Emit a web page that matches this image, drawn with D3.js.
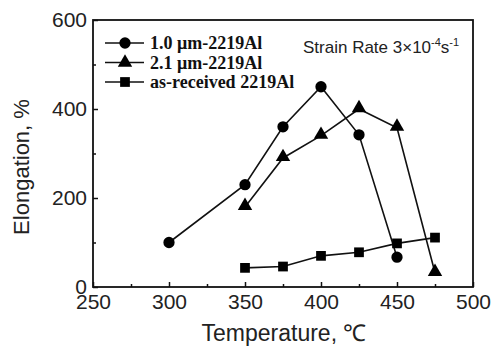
<!DOCTYPE html>
<html>
<head>
<meta charset="utf-8">
<script src="https://cdn.jsdelivr.net/npm/d3@7"></script>
<style>
  body { margin: 0; background: #fff; }
  svg { display: block; }
</style>
</head>
<body>
<div id="chart"></div>
<script>
// values
const temps1 = [300, 350, 375, 400, 425, 450];
const elong1 = [100, 230, 360, 450, 342, 67];
const temps2 = [350, 375, 400, 425, 450, 475];
const elong2 = [180, 290, 340, 400, 358, 32];
const tempsAR = [350, 375, 400, 425, 450, 475];
const elongAR = [43, 46, 70, 78, 98, 111];

const xTicks = [250, 300, 350, 400, 450, 500];
const yTicks = [0, 200, 400, 600];
const seriesNames = ["1.0 \u03bcm-2219Al", "2.1 \u03bcm-2219Al", "as-received 2219Al"];

const size = { width: 493, height: 348 };
const margin = { left: 93, top: 20, right: 20, bottom: 61 };
const w = size.width - margin.left - margin.right;
const h = size.height - margin.top - margin.bottom;

const svg = d3.select("#chart").append("svg")
    .attr("width", size.width)
    .attr("height", size.height);

const g = svg.append("g")
    .attr("transform", "translate(" + margin.left + "," + margin.top + ")");

const xScale = d3.scaleLinear().domain([250, 500]).range([0, w]);
const yScale = d3.scaleLinear().domain([0, 600]).range([h, 0]);

const tickFont = "Liberation Sans, Arial, sans-serif";

// minor ticks first, then major
g.append("g")
    .attr("transform", "translate(0," + h + ")")
    .call(d3.axisBottom(xScale).tickValues([275, 325, 375, 425, 475]).tickSize(-3).tickFormat(""))
    .call(a => a.select(".domain").remove());
g.append("g")
    .call(d3.axisLeft(yScale).tickValues([100, 300, 500]).tickSize(-3).tickFormat(""))
    .call(a => a.select(".domain").remove());

const xAxis = g.append("g")
    .attr("transform", "translate(0," + h + ")")
    .call(d3.axisBottom(xScale).tickValues(xTicks).tickSize(-5).tickPadding(7).tickFormat(d3.format("d")));
xAxis.select(".domain").remove();
xAxis.selectAll("text").attr("font-size", 21).attr("font-family", tickFont).attr("fill", "#222");

const yAxis = g.append("g")
    .call(d3.axisLeft(yScale).tickValues(yTicks).tickSize(-5).tickPadding(6).tickFormat(d3.format("d")));
yAxis.select(".domain").remove();
yAxis.selectAll("text").attr("font-size", 21).attr("font-family", tickFont).attr("fill", "#222");
g.selectAll(".tick line").attr("stroke", "#111").attr("stroke-width", 1.5);

g.append("rect")
    .attr("width", w).attr("height", h)
    .attr("fill", "none").attr("stroke", "#111").attr("stroke-width", 1.8);

// axis titles
svg.append("text")
    .attr("x", 284).attr("y", 341)
    .attr("text-anchor", "middle")
    .attr("font-family", tickFont).attr("font-size", 23).attr("fill", "#222")
    .text("Temperature, \u2103");

svg.append("text")
    .attr("transform", "translate(29,167) rotate(-90)")
    .attr("text-anchor", "middle")
    .attr("font-family", tickFont).attr("font-size", 22).attr("fill", "#222")
    .text("Elongation, %");

const line = d3.line().x(d => xScale(d[0])).y(d => yScale(d[1]));

const circle = d3.symbol().type(d3.symbolCircle).size(100);
const triangle = d3.symbol().type(d3.symbolTriangle).size(90);
const square = d3.symbol().type(d3.symbolSquare).size(95);

const series = [
    { pts: d3.zip(temps1, elong1), sym: circle, dy: 0 },
    { pts: d3.zip(temps2, elong2), sym: triangle, dy: -1 },
    { pts: d3.zip(tempsAR, elongAR), sym: square, dy: 0 }
];

series.forEach(s => {
    g.append("path")
        .datum(s.pts)
        .attr("fill", "none")
        .attr("stroke", "#111")
        .attr("stroke-width", 1.6)
        .attr("d", line);
    g.selectAll(null)
        .data(s.pts)
        .enter().append("path")
        .attr("d", s.sym)
        .attr("fill", "#000")
        .attr("transform", d => "translate(" + xScale(d[0]) + "," + (yScale(d[1]) + s.dy) + ")");
});

// legend
const legend = svg.append("g");
const symbols = [circle, triangle, square];
seriesNames.forEach((name, i) => {
    const y = 43 + i * 19.5;
    legend.append("line")
        .attr("x1", 105).attr("x2", 144)
        .attr("y1", y).attr("y2", y)
        .attr("stroke", "#111").attr("stroke-width", 1.6);
    legend.append("path")
        .attr("d", symbols[i])
        .attr("fill", "#000")
        .attr("transform", "translate(125," + y + ")");
    legend.append("text")
        .attr("x", 150).attr("y", y + 6)
        .attr("font-family", "Liberation Serif, Times New Roman, serif")
        .attr("font-weight", "bold")
        .attr("font-size", 18)
        .attr("fill", "#111")
        .text(name);
});

const note = svg.append("text")
    .attr("x", 303).attr("y", 53)
    .attr("font-family", tickFont).attr("font-size", 17).attr("fill", "#222");
note.append("tspan").text("Strain Rate 3\u00d710");
note.append("tspan").attr("dy", -7).attr("font-size", 11).text("-4");
note.append("tspan").attr("dy", 7).text("s");
note.append("tspan").attr("dy", -7).attr("font-size", 11).text("-1");
</script>
</body>
</html>
